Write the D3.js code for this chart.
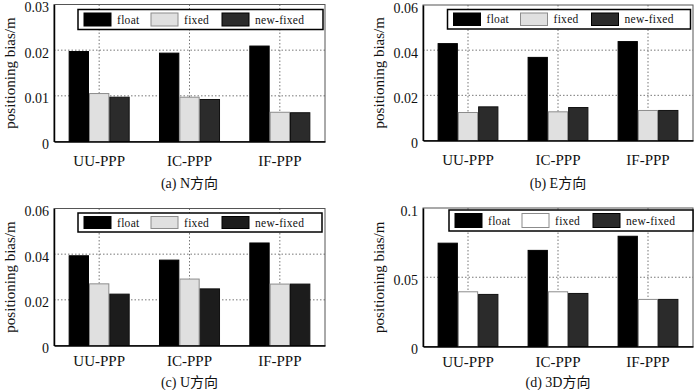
<!DOCTYPE html>
<html><head><meta charset="utf-8">
<script src="https://cdn.jsdelivr.net/npm/d3@7"></script>
<style>
html,body{margin:0;padding:0;background:#fff;}
svg{display:block;}
svg text{font-family:"Liberation Serif","Times New Roman","Noto Sans CJK SC",serif !important;fill:#111;}
</style></head>
<body><svg id="chart" width="700" height="390"></svg>
<script>
// ---- data ----
const categories = ["UU-PPP", "IC-PPP", "IF-PPP"];
const seriesNames = ["float", "fixed", "new-fixed"];

const nFloat = [0.0197, 0.01935, 0.0209];
const nFixed = [0.0105, 0.0097, 0.0064];
const nNew   = [0.0097, 0.0092, 0.0063];

const eFloat = [0.0429, 0.0368, 0.0438];
const eFixed = [0.0124, 0.0127, 0.0133];
const eNew   = [0.0149, 0.0146, 0.0133];

const uFloat = [0.0393, 0.0374, 0.0449];
const uFixed = [0.0270, 0.0291, 0.0269];
const uNew   = [0.0225, 0.0248, 0.0269];

const dFloat = [0.0746, 0.0694, 0.0796];
const dFixed = [0.0395, 0.0395, 0.0340];
const dNew   = [0.0376, 0.0383, 0.0340];

const nTicks = [0, 0.01, 0.02, 0.03];
const nTickLabels = ["0", "0.01", "0.02", "0.03"];
const eTicks = [0, 0.02, 0.04, 0.06];
const eTickLabels = ["0", "0.02", "0.04", "0.06"];
const uTicks = [0, 0.02, 0.04, 0.06];
const uTickLabels = ["0", "0.02", "0.04", "0.06"];
const dTicks = [0, 0.05, 0.1];
const dTickLabels = ["0", "0.05", "0.1"];

const captions = ["(a) N方向", "(b) E方向", "(c) U方向", "(d) 3D方向"];
const yTitle = "positioning bias/m";

// ---- layout ----
const panels = [
  {vals:[nFloat,nFixed,nNew], ticks:nTicks, labels:nTickLabels, left:54, right:325, top:4.5, bottom:141.5, capY:188, xPad:14,
   leg:{dx:24, dy:5, w:245, h:20}, fixedFill:"#e0e0e0", newFill:"#2b2b2b"},
  {vals:[eFloat,eFixed,eNew], ticks:eTicks, labels:eTickLabels, left:423, right:693, top:5, bottom:140.5, capY:188, xPad:14,
   leg:{dx:24.5, dy:4.5, w:243, h:19.5}, fixedFill:"#e0e0e0", newFill:"#2b2b2b"},
  {vals:[uFloat,uFixed,uNew], ticks:uTicks, labels:uTickLabels, left:54, right:325, top:208.5, bottom:345.5, capY:387, xPad:10,
   leg:{dx:24, dy:4.5, w:244, h:19}, fixedFill:"#e0e0e0", newFill:"#1c1c1c"},
  {vals:[dFloat,dFixed,dNew], ticks:dTicks, labels:dTickLabels, left:423, right:693, top:208, bottom:346.5, capY:387, xPad:10,
   leg:{dx:26, dy:2, w:244, h:21}, fixedFill:"#ffffff", newFill:"#2b2b2b"}
];

const svg = d3.select("#chart");
const serif = "'Liberation Serif', 'Times New Roman', 'Noto Sans CJK SC', serif";

panels.forEach((p, pi) => {
  const g = svg.append("g");
  const yMax = p.ticks[p.ticks.length - 1];
  const y = d3.scaleLinear().domain([0, yMax]).range([p.bottom, p.top]);
  const x0 = d3.scaleBand().domain(categories).range([p.left, p.right]).padding(0);
  const x1 = d3.scaleBand().domain(seriesNames).range([0, x0.bandwidth()]).paddingInner(0).paddingOuter(0.72);
  const fills = ["#000000", p.fixedFill, p.newFill];
  const strokes = ["#000000", "#8c8c8c", "#111111"];

  // gridlines
  g.append("g").selectAll("line").data(p.ticks.slice(1, -1)).join("line")
    .attr("x1", p.left).attr("x2", p.right)
    .attr("y1", d => y(d)).attr("y2", d => y(d))
    .attr("stroke", "#777").attr("stroke-width", 1).attr("stroke-dasharray", "1.5,2");
  g.append("g").selectAll("line").data(categories).join("line")
    .attr("x1", d => x0(d) + x0.bandwidth() / 2).attr("x2", d => x0(d) + x0.bandwidth() / 2)
    .attr("y1", p.top).attr("y2", p.bottom)
    .attr("stroke", "#777").attr("stroke-width", 1).attr("stroke-dasharray", "1.5,2");

  // frame
  g.append("rect").attr("x", p.left).attr("y", p.top)
    .attr("width", p.right - p.left).attr("height", p.bottom - p.top)
    .attr("fill", "none").attr("stroke", "#555").attr("stroke-width", 1);

  // bars
  const barData = [];
  categories.forEach((c, ci) => seriesNames.forEach((s, si) => barData.push({c, s, si, v: p.vals[si][ci]})));
  g.append("g").selectAll("rect").data(barData).join("rect")
    .attr("x", d => x0(d.c) + x1(d.s) + 0.5)
    .attr("y", d => y(d.v))
    .attr("width", x1.bandwidth() - 1)
    .attr("height", d => p.bottom - y(d.v))
    .attr("fill", d => fills[d.si])
    .attr("stroke", d => strokes[d.si]).attr("stroke-width", 1);

  // axes
  const yAxis = d3.axisLeft(y).tickValues(p.ticks).tickFormat((d, i) => p.labels[i]).tickSize(0).tickPadding(5);
  const ya = g.append("g").attr("transform", `translate(${p.left},0)`).call(yAxis)
    .attr("font-family", serif).attr("font-size", 14);
  ya.select(".domain").attr("stroke", "#000").attr("stroke-width", 1.5);
  ya.selectAll("text").attr("dy", "0.5em").attr("fill", "#111");

  const xAxis = d3.axisBottom(x0).tickSize(0).tickPadding(p.xPad);
  const xa = g.append("g").attr("transform", `translate(0,${p.bottom})`).call(xAxis)
    .attr("font-family", serif).attr("font-size", 15);
  xa.select(".domain").attr("stroke", "#000").attr("stroke-width", 1.5);
  xa.selectAll("text").attr("fill", "#111");

  // y title
  const cy = (p.top + p.bottom) / 2;
  g.append("text").attr("transform", `translate(${p.left - 44},${cy}) rotate(-90)`)
    .attr("text-anchor", "middle").attr("dy", "0.35em")
    .attr("font-family", serif).attr("font-size", 15).text(yTitle);

  // caption
  g.append("text").attr("x", (p.left + p.right) / 2).attr("y", p.capY)
    .attr("text-anchor", "middle").attr("font-family", serif).attr("font-size", 14).text(captions[pi]);

  // legend
  const L = p.leg;
  const lg = g.append("g").attr("transform", `translate(${p.left + L.dx},${p.top + L.dy})`);
  lg.append("rect").attr("width", L.w).attr("height", L.h).attr("fill", "#fff")
    .attr("stroke", "#000").attr("stroke-width", 1.5);
  const swX = [6, 73, 144];
  seriesNames.forEach((s, si) => {
    lg.append("rect").attr("x", swX[si]).attr("y", 3.5).attr("width", 27).attr("height", L.h - 7)
      .attr("fill", fills[si]).attr("stroke", si === 1 ? "#8c8c8c" : "#000").attr("stroke-width", 1);
    lg.append("text").attr("x", swX[si] + 33).attr("y", L.h / 2).attr("dy", "0.35em")
      .attr("font-family", serif).attr("font-size", 11.5).style("letter-spacing", "0.3px").text(s);
  });
});
</script>
</body></html>
